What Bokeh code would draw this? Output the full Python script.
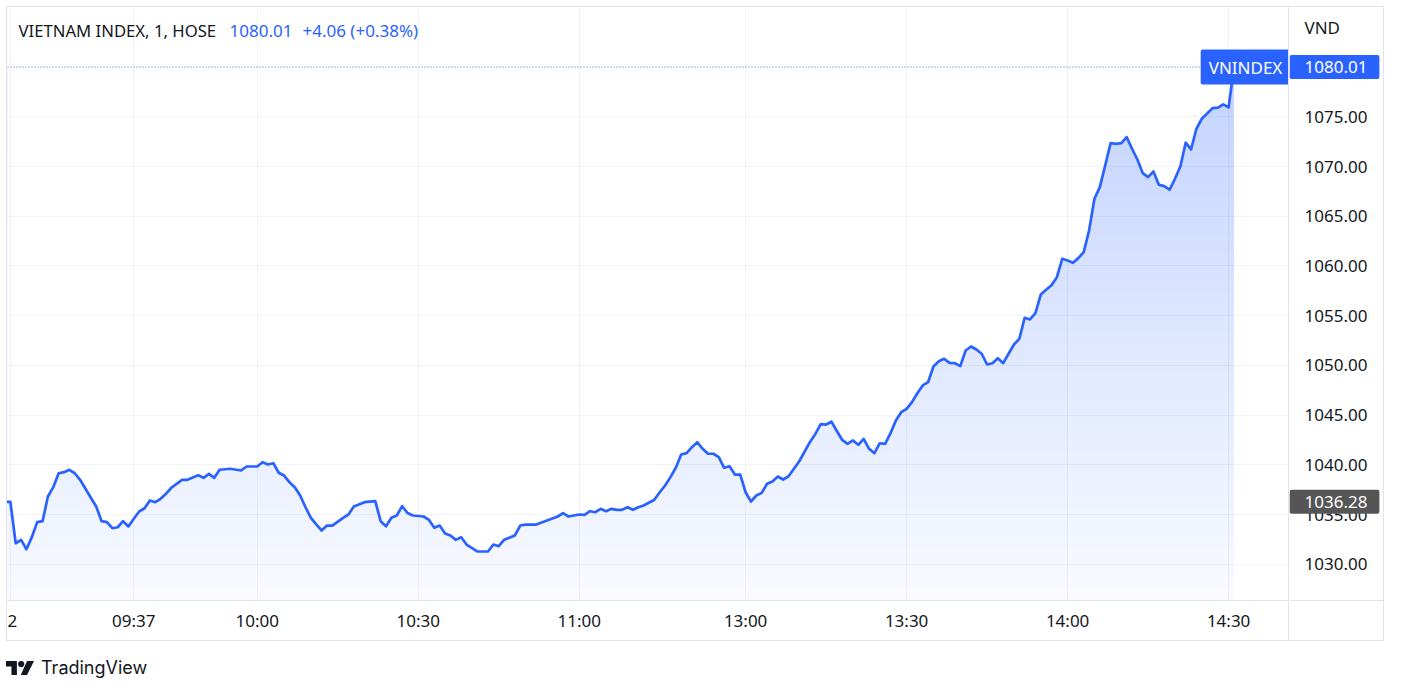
import numpy as np
from bokeh.plotting import figure
from bokeh.models import Range1d, FixedTicker, Label, Span, Div, Grid
from bokeh.layouts import column, row
from bokeh.core.properties import value
from bokeh.embed import file_html
from bokeh.resources import INLINE

# ---------------- data ----------------
symbol_title = "VIETNAM INDEX, 1, HOSE"
series_name = "VNINDEX"
currency = "VND"

times = [
    "09:13", "09:14", "09:15", "09:16", "09:17", "09:18", "09:19", "09:20", "09:21", "09:22",
    "09:23", "09:24", "09:25", "09:26", "09:27", "09:28", "09:29", "09:30", "09:31", "09:32",
    "09:33", "09:34", "09:35", "09:36", "09:37", "09:38", "09:39", "09:40", "09:41", "09:42",
    "09:43", "09:44", "09:46", "09:47", "09:49", "09:50", "09:51", "09:52", "09:53", "09:55",
    "09:57", "09:58", "10:00", "10:01", "10:02", "10:03", "10:04", "10:05", "10:06", "10:07",
    "10:08", "10:09", "10:10", "10:11", "10:12", "10:13", "10:14", "10:16", "10:17", "10:18",
    "10:20", "10:22", "10:23", "10:24", "10:25", "10:26", "10:27", "10:28", "10:29", "10:31",
    "10:32", "10:33", "10:34", "10:35", "10:36", "10:37", "10:38", "10:39", "10:41", "10:43",
    "10:44", "10:45", "10:46", "10:48", "10:49", "10:50", "10:52", "10:54", "10:56", "10:57",
    "10:58", "11:00", "11:01", "11:02", "11:03", "11:04", "11:05", "11:06", "11:07", "11:08",
    "11:09", "11:10", "11:11", "11:12", "11:14", "11:15", "11:16", "11:17", "11:18", "11:19",
    "11:20", "11:21", "11:22", "11:23", "11:24", "11:25", "11:26", "11:27", "11:28", "11:29",
    "11:30", "13:00", "13:01", "13:02", "13:03", "13:04", "13:05", "13:06", "13:07", "13:08",
    "13:10", "13:12", "13:13", "13:14", "13:15", "13:16", "13:17", "13:18", "13:19", "13:20",
    "13:21", "13:22", "13:23", "13:24", "13:25", "13:26", "13:27", "13:28", "13:29", "13:30",
    "13:31", "13:32", "13:33", "13:34", "13:35", "13:36", "13:37", "13:38", "13:39", "13:40",
    "13:41", "13:42", "13:43", "13:44", "13:45", "13:46", "13:47", "13:48", "13:49", "13:50",
    "13:51", "13:52", "13:53", "13:54", "13:55", "13:56", "13:57", "13:58", "13:59", "14:00",
    "14:01", "14:02", "14:03", "14:04", "14:05", "14:06", "14:07", "14:08", "14:09", "14:10",
    "14:11", "14:12", "14:13", "14:14", "14:15", "14:16", "14:17", "14:18", "14:19", "14:20",
    "14:21", "14:22", "14:23", "14:24", "14:25", "14:27", "14:28", "14:29", "14:30", "14:45",
]

closes = [
    1036.28, 1036.28, 1032.11, 1032.45, 1031.51, 1032.72, 1034.23, 1034.33, 1036.81, 1037.75,
    1039.15, 1039.26, 1039.50, 1039.15, 1038.49, 1037.59, 1036.68, 1035.80, 1034.33, 1034.23,
    1033.62, 1033.72, 1034.33, 1033.80, 1034.57, 1035.30, 1035.63, 1036.41, 1036.24, 1036.58,
    1037.08, 1037.69, 1038.49, 1038.49, 1038.95, 1038.69, 1039.09, 1038.69, 1039.50, 1039.60,
    1039.43, 1039.83, 1039.83, 1040.26, 1040.03, 1040.16, 1039.20, 1038.92, 1038.25, 1037.75,
    1036.91, 1035.73, 1034.67, 1034.00, 1033.39, 1033.89, 1033.89, 1034.67, 1035.00, 1035.80,
    1036.24, 1036.34, 1034.33, 1033.82, 1034.67, 1034.90, 1035.83, 1035.15, 1034.90, 1034.80,
    1034.45, 1033.66, 1033.89, 1033.10, 1032.89, 1032.45, 1032.72, 1031.98, 1031.28, 1031.28,
    1031.98, 1031.81, 1032.45, 1032.89, 1033.89, 1033.99, 1033.99, 1034.40, 1034.80, 1035.13,
    1034.80, 1035.00, 1034.97, 1035.33, 1035.23, 1035.57, 1035.33, 1035.57, 1035.47, 1035.47,
    1035.73, 1035.47, 1035.73, 1035.90, 1036.48, 1037.24, 1037.92, 1038.76, 1039.70, 1041.04,
    1041.17, 1041.77, 1042.27, 1041.61, 1041.11, 1041.11, 1040.77, 1039.70, 1039.86, 1039.02,
    1039.02, 1037.24, 1036.31, 1036.91, 1037.18, 1038.09, 1038.32, 1038.82, 1038.52, 1038.85,
    1040.36, 1042.30, 1043.10, 1044.10, 1044.05, 1044.33, 1043.40, 1042.50, 1042.11, 1042.45,
    1042.01, 1042.61, 1041.61, 1041.17, 1042.17, 1042.11, 1043.18, 1044.46, 1045.29, 1045.63,
    1046.30, 1047.20, 1047.98, 1048.31, 1049.89, 1050.42, 1050.66, 1050.26, 1050.22, 1049.92,
    1051.50, 1051.90, 1051.60, 1051.17, 1050.09, 1050.22, 1050.72, 1050.22, 1051.17, 1052.10,
    1052.67, 1054.79, 1054.62, 1055.25, 1057.13, 1057.60, 1058.07, 1058.87, 1060.72, 1060.55,
    1060.32, 1060.79, 1061.39, 1063.57, 1066.76, 1067.93, 1070.11, 1072.35, 1072.29, 1072.35,
    1072.96, 1071.79, 1070.71, 1069.34, 1068.93, 1069.51, 1068.17, 1068.03, 1067.67, 1068.77,
    1070.00, 1072.40, 1071.72, 1073.80, 1074.81, 1075.88, 1075.92, 1076.25, 1075.95, 1080.01,
]

time_ticks = ["09:14", "09:37", "10:00", "10:30", "11:00", "13:00", "13:30", "14:00", "14:30"]
time_tick_labels = ["2", "09:37", "10:00", "10:30", "11:00", "13:00", "13:30", "14:00", "14:30"]
price_ticks = [1030, 1035, 1040, 1045, 1050, 1055, 1060, 1065, 1070, 1075]


def bar_pos(t):
    """Position on a gap-less intraday axis (lunch break removed, ATC bar right after 14:30)."""
    h, m = map(int, t.split(":"))
    mins = h * 60 + m
    if mins > 14 * 60 + 30:
        mins = 14 * 60 + 31
    if mins >= 13 * 60:
        mins -= 89
    return mins


xs = np.array([bar_pos(t) for t in times], dtype=float)
ys = np.array(closes, dtype=float)

# ---------------- layout constants ----------------
X0, X1 = 553.47, 792.53
Y0, Y1 = 1026.35, 1086.0
FRAME_W, FRAME_H = 1283, 593
SCALE_W, BOTTOM_H = 95, 42
LEFT_PX, TOP_PX = 7, 7

BLUE = "#2962ff"
TEXT = "#131722"
BORDER = "1px solid #e0e3eb"
FONT = "Noto Sans"
FS = "17px"
BOX_PAD_V = dict(top=6, bottom=6)


def sy(py):
    return Y1 - (py - TOP_PX) / FRAME_H * (Y1 - Y0)


def sx(px):
    return px - LEFT_PX


# ---------------- main pane ----------------
p = figure(
    width=FRAME_W, height=FRAME_H + BOTTOM_H,
    x_range=Range1d(X0, X1), y_range=Range1d(Y0, Y1),
    output_backend="svg", toolbar_location=None,
    y_axis_location=None,
    min_border_left=0, min_border_top=0, min_border_right=0, min_border_bottom=BOTTOM_H,
    background_fill_color="white", border_fill_color="white",
)
p.styles = {"border-left": BORDER, "border-top": BORDER, "border-bottom": BORDER,
            "border-right": BORDER}
p.outline_line_color = None

xt = FixedTicker(ticks=[bar_pos(t) for t in time_ticks])
ax = p.xaxis[0]
ax.ticker = xt
ax.major_label_overrides = {bar_pos(t): lab for t, lab in zip(time_ticks, time_tick_labels)}
ax.axis_line_color = "#e0e3eb"
ax.major_tick_line_color = None
ax.minor_tick_line_color = None
ax.major_tick_in = 0
ax.major_tick_out = 0
ax.major_label_text_font = FONT
ax.major_label_text_font_size = FS
ax.major_label_text_color = TEXT
ax.major_label_standoff = 8

for g in p.grid:
    g.visible = False
for dim, tk in ((0, xt), (1, FixedTicker(ticks=price_ticks))):
    g = Grid(dimension=dim, ticker=tk, grid_line_color="#5072c4", grid_line_alpha=0.085, level="glyph")
    p.add_layout(g)

# gradient area under the line
N = 256
t = np.linspace(0.0, 1.0, N)
alpha = 0.03 + (0.28 - 0.03) * t
rgb_blue = np.array([41, 98, 255], dtype=float)
img = np.empty((N, 1), dtype=np.uint32)
view = img.view(dtype=np.uint8).reshape((N, 1, 4))
for k in range(3):
    view[:, 0, k] = np.round(255 * (1 - alpha) + rgb_blue[k] * alpha).astype(np.uint8)
view[:, 0, 3] = 255
top_val = ys.max()
p.image_rgba(image=[img], x=xs[0], y=Y0, dw=xs[-1] - xs[0], dh=top_val - Y0, level="image")
p.varea(x=xs, y1=ys, y2=Y1 + 5, fill_color="white", fill_alpha=1.0, level="underlay")

p.line(xs, ys, line_color=BLUE, line_width=2.7, line_join="round", level="guide")

p.add_layout(Span(location=ys[-1], dimension="width", line_color=BLUE,
                  line_dash="1 2", line_width=1))

last = ys[-1]
chg = ys[-1] - ys[-2]
pct = chg / ys[-2] * 100
common = dict(x_units="screen", y_units="data", text_font=FONT, text_font_size=FS,
              text_baseline="middle")
p.add_layout(Label(x=sx(18), y=sy(30), text=symbol_title, text_color=TEXT,
                   **{**common, "text_font_size": "16.7px"}))
p.add_layout(Label(x=sx(229), y=sy(30), text=f"{last:.2f}", text_color=BLUE, **common))
p.add_layout(Label(x=sx(302), y=sy(30), text=f"{chg:+.2f} ({pct:+.2f}%)", text_color=BLUE, **common))
p.add_layout(Label(x=sx(1245), y=last, text=series_name, text_color="white", text_align="center",
                   background_fill_color=BLUE, padding=dict(left=8, right=8, **BOX_PAD_V),
                   border_radius=2, **common))

# ---------------- price scale ----------------
p2 = figure(
    width=SCALE_W, height=FRAME_H + BOTTOM_H,
    x_range=Range1d(0, SCALE_W), y_range=p.y_range,
    output_backend="svg", toolbar_location=None,
    y_axis_location=None,
    min_border_left=0, min_border_top=0, min_border_right=0, min_border_bottom=BOTTOM_H,
    background_fill_color="white", border_fill_color="white",
)
p2.styles = {"border-top": BORDER, "border-bottom": BORDER, "border-right": BORDER}
p2.outline_line_color = None
p2.grid.visible = False
a2 = p2.xaxis[0]
a2.ticker = FixedTicker(ticks=[])
a2.axis_line_color = "#e0e3eb"
a2.major_tick_line_color = None
a2.minor_tick_line_color = None
a2.major_label_text_font_size = "0px"

p2.text(x=[15] * len(price_ticks), y=price_ticks, text=[f"{v:.2f}" for v in price_ticks],
        text_font=value(FONT), text_font_size=value(FS), text_color=TEXT,
        text_baseline="middle", text_align="left")

c2 = dict(x_units="data", y_units="data", text_font=FONT, text_font_size=FS,
          text_baseline="middle", text_align="left")
p2.add_layout(Label(x=15, y=sy(27), text=currency, text_color=TEXT, **c2))
p2.add_layout(Label(x=0, y=last, text=f"{last:.2f}", text_color="white",
                    background_fill_color=BLUE, padding=dict(left=15, right=12, **BOX_PAD_V),
                    border_radius=2, **c2))
p2.add_layout(Label(x=0, y=ys[0], text=f"{ys[0]:.2f}", text_color="white",
                    background_fill_color="#555555", padding=dict(left=15, right=12, **BOX_PAD_V),
                    border_radius=2, **c2))

logo_html = (
    '<div style="display:flex;align-items:center;margin-top:15px;height:24px;">'
    '<svg width="28" height="14" viewBox="0 0 36 18" style="margin-right:7px">'
    '<path d="M14 18H7V7H0V0h14z" fill="#131722"/>'
    '<circle cx="19.5" cy="4" r="4" fill="#131722"/>'
    '<path d="M27 0h9l-9 18h-8z" fill="#131722"/></svg>'
    '<span style="font-family:Inter;font-size:18px;color:#131722;">TradingView</span></div>'
)
logo = Div(text=logo_html, width=300, height=45, margin=0)

layout = column(row(p, p2), logo, margin=(6, 0, 0, 6))

with open("out.html", "w") as f:
    f.write(file_html(layout, INLINE))
